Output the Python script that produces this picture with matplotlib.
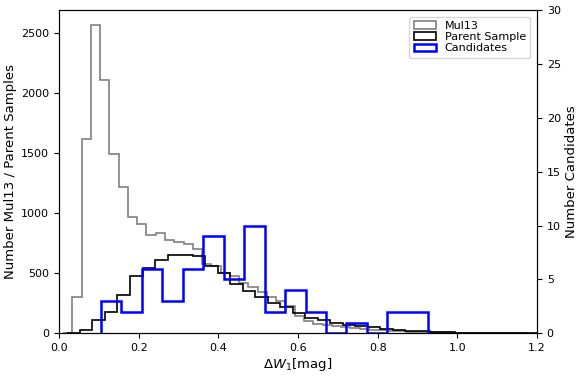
import numpy as np
import matplotlib
matplotlib.use("Agg")
import matplotlib.pyplot as plt

# Mul13 histogram (grey), bins start at 0.0101, width 0.02327
mul13_start = 0.0101
mul13_width = 0.02327
mul13_counts = [5, 303, 1617, 2564, 2108, 1489, 1219, 965, 911, 819,
                833, 778, 764, 742, 700, 575, 560, 500, 480, 420,
                385, 340, 300, 270, 225, 140, 100, 75, 65, 60,
                50, 45, 40, 30, 25, 20, 18, 15, 15, 10,
                8, 12, 5, 3, 4, 2, 2, 1, 1, 1]

# parent sample (black)
parent_start = 0.0213
parent_width = 0.0314
parent_counts = [0, 28, 111, 175, 319, 478, 541, 611, 653, 650,
                 640, 560, 500, 410, 350, 300, 255, 215, 165, 125,
                 110, 85, 70, 58, 50, 38, 28, 22, 20, 12,
                 8, 6, 5, 4, 4, 3, 3, 2, 2, 1]

# candidates (blue, right axis)
cand_start = 0.1054
cand_width = 0.05135
cand_counts = [3, 2, 6, 3, 6, 9, 5, 10, 2, 4, 2, 0, 1, 0, 2, 2]


def edges_of(start, width, counts):
    return start + width * np.arange(len(counts) + 1)


fig = plt.figure(figsize=(5.81, 3.77), dpi=100)
ax = fig.add_axes([0.1015, 0.1159, 0.8228, 0.8576])

e = edges_of(mul13_start, mul13_width, mul13_counts)
h1 = ax.hist(e[:-1] + mul13_width / 2, bins=e, weights=mul13_counts,
             histtype='step', color='grey', lw=1.2, label='Mul13')
e = edges_of(parent_start, parent_width, parent_counts)
h2 = ax.hist(e[:-1] + parent_width / 2, bins=e, weights=parent_counts,
             histtype='step', color='black', lw=1.2, label='Parent Sample')

ax.set_xlim(0, 1.2)
ax.set_ylabel("Number Mul13 / Parent Samples", fontsize=9.5, labelpad=3)
ax.set_xlabel(r"$\Delta W_1$[mag]", fontsize=9.5, labelpad=2)
ax.tick_params(labelsize=8)

ax2 = ax.twinx()
e = edges_of(cand_start, cand_width, cand_counts)
h3 = ax2.hist(e[:-1] + cand_width / 2, bins=e, weights=cand_counts,
              histtype='step', color='blue', lw=1.8, label='Candidates')
ax2.set_ylim(0, 30)
ax2.set_ylabel("Number Candidates", fontsize=9.5, labelpad=3)
ax2.tick_params(labelsize=8)

handles = [h1[2][0], h2[2][0], h3[2][0]]
ax2.legend(handles, ['Mul13', 'Parent Sample', 'Candidates'],
           loc='upper right', fontsize=8, handlelength=2, labelspacing=0.1,
           borderaxespad=0.6)

fig.savefig("out.png", dpi=100)
